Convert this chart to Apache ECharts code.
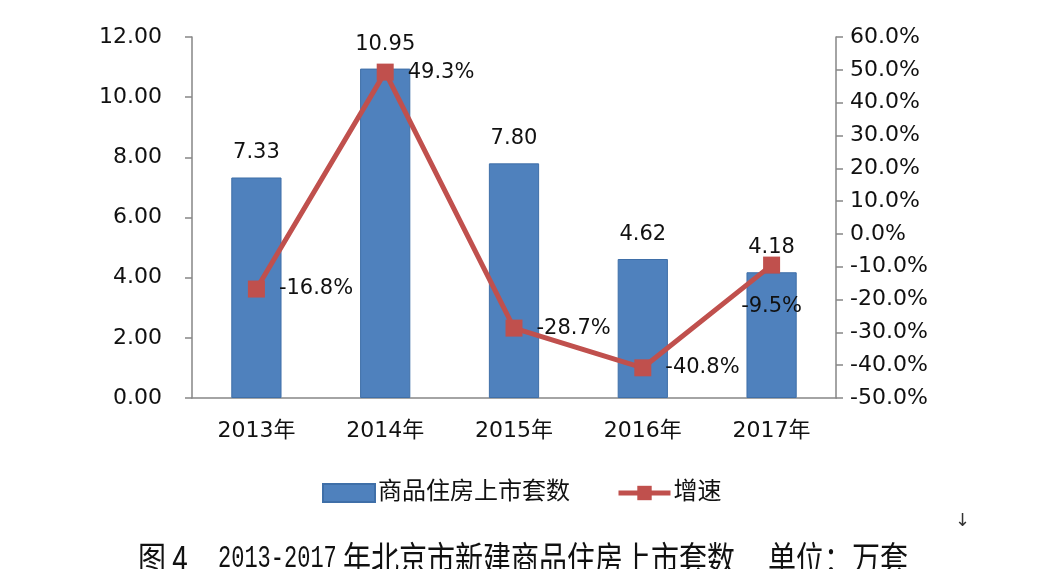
<!DOCTYPE html>
<html><head><meta charset="utf-8">
<script src="https://cdn.jsdelivr.net/npm/echarts@6/dist/echarts.min.js"></script>
<style>html,body{margin:0;padding:0;background:#fff}#c{width:1058px;height:569px}</style>
</head><body><div id="c"></div>
<script>
var categories = ['2013年','2014年','2015年','2016年','2017年'];
var supply = [7.33, 10.95, 7.80, 4.62, 4.18];
var growth = [-16.8, 49.3, -28.7, -40.8, -9.5];
var growthLabelPos = ['right','right','right','right','bottom'];
var seriesNames = ['商品住房上市套数','增速'];
var captionParts = ['图 4', '2013-2017', '年北京市新建商品住房上市套数', '单位：万套'];

var FONT = '"DejaVu Sans","Noto Sans CJK SC",sans-serif';
var CJK = '"Noto Sans CJK SC",sans-serif';
var chart = echarts.init(document.getElementById('c'));
chart.setOption({
  animation:false,
  backgroundColor:'#fff',
  grid:{left:192,right:222,top:37,bottom:171},
  legend:{
    left:317, top:476, itemWidth:52, itemHeight:18, itemGap:46,
    textStyle:{fontSize:24,color:'#111',fontFamily:FONT,padding:[0,0,0,-2]},
    data:[
      {name:seriesNames[0],icon:'rect'},
      {name:seriesNames[1],lineStyle:{width:5}}
    ]
  },
  xAxis:{
    type:'category', data:categories,
    axisLine:{lineStyle:{color:'#868686',width:1.5}},
    axisTick:{length:8,lineStyle:{color:'#868686',width:1.5}},
    axisLabel:{fontSize:22,color:'#111',margin:22,fontFamily:FONT}
  },
  yAxis:[{
    type:'value', min:0, max:12, interval:2,
    axisLine:{show:true,lineStyle:{color:'#868686',width:1.5}},
    axisTick:{show:true,length:7,lineStyle:{color:'#868686',width:1.5}},
    splitLine:{show:false},
    axisLabel:{fontSize:22,color:'#111',margin:30,fontFamily:FONT,formatter:function(v){return v.toFixed(2);}}
  },{
    type:'value', min:-50, max:60, interval:10,
    axisLine:{show:true,lineStyle:{color:'#868686',width:1.5}},
    axisTick:{show:true,length:7,lineStyle:{color:'#868686',width:1.5}},
    splitLine:{show:false},
    axisLabel:{fontSize:22,color:'#111',margin:14,fontFamily:FONT,formatter:function(v){return v.toFixed(1)+'%';}}
  }],
  series:[{
    name:seriesNames[0], type:'bar', data:supply, barWidth:'39%',
    itemStyle:{color:'#4F81BD',borderColor:'#3F6FA8',borderWidth:1},
    label:{show:true,position:'top',distance:14,fontSize:21,color:'#111',fontFamily:FONT,
      formatter:function(p){return p.value.toFixed(2);}}
  },{
    name:seriesNames[1], type:'line', yAxisIndex:1,
    data:growth.map(function(v,i){return {value:v,label:{position:growthLabelPos[i],distance:growthLabelPos[i]==='bottom'?22:14}};}),
    symbol:'rect', symbolSize:17,
    lineStyle:{color:'#C0504D',width:5},
    itemStyle:{color:'#C0504D'},
    label:{show:true,fontSize:21,color:'#111',fontFamily:FONT,
      formatter:function(p){return p.value.toFixed(1)+'%';}}
  }],
  graphic:[
    {type:'text',x:138,y:541,scaleY:1.25,style:{text:captionParts[0],fontSize:28,fill:'#111',fontFamily:CJK}},
    {type:'text',x:218,y:543,scaleY:1.45,style:{text:captionParts[1],fontSize:22,fill:'#111',fontFamily:'"Liberation Mono",monospace'}},
    {type:'text',x:343,y:541,scaleY:1.25,style:{text:captionParts[2],fontSize:28,fill:'#111',fontFamily:CJK}},
    {type:'text',x:768,y:541,scaleY:1.25,style:{text:captionParts[3],fontSize:28,fill:'#111',fontFamily:CJK}},
    {type:'text',x:955,y:512,style:{text:'↓',fontSize:18,fill:'#333',fontFamily:FONT}}
  ]
});
</script></body></html>
